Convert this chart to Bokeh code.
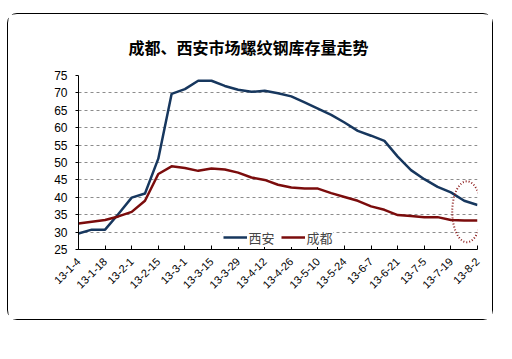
import math
from bokeh.plotting import figure
from bokeh.models import Range1d, FixedTicker, Legend, LegendItem
from bokeh.embed import file_html
from bokeh.resources import INLINE

tick_labels = ["13-1-4", "13-1-18", "13-2-1", "13-2-15", "13-3-1", "13-3-15", "13-3-29",
               "13-4-12", "13-4-26", "13-5-10", "13-5-24", "13-6-7", "13-6-21", "13-7-5",
               "13-7-19", "13-8-2"]
xian = [29.6, 30.7, 30.7, 35.2, 39.9, 41.1, 51.1, 69.7, 71.1, 73.5, 73.5, 72.0, 70.9, 70.3,
        70.6, 69.9, 69.0, 67.3, 65.5, 63.7, 61.5, 59.1, 57.7, 56.2, 51.7, 47.8, 45.2, 43.0,
        41.4, 39.0, 37.8]
chengdu = [32.5, 33.0, 33.5, 34.5, 35.8, 39.0, 46.7, 48.9, 48.4, 47.6, 48.3, 48.0, 47.1, 45.7,
           45.0, 43.6, 42.8, 42.5, 42.5, 41.2, 40.1, 39.0, 37.4, 36.4, 34.9, 34.6, 34.3, 34.3,
           33.5, 33.3, 33.3]
idx = list(range(len(xian)))

CJK = "Noto Sans CJK SC"
LAT = "Liberation Sans"

p = figure(frame_width=399, frame_height=174, output_backend="svg", toolbar_location=None,
           x_range=Range1d(0, len(xian) - 1), y_range=Range1d(25, 75),
           min_border_left=70, min_border_right=15, min_border_top=61, min_border_bottom=70,
           title="成都、西安市场螺纹钢库存量走势")
p.styles = {"border": "1px solid black", "border-radius": "10px",
            "margin-left": "7px", "margin-top": "13px"}
p.outline_line_color = None
p.background_fill_color = "white"
p.border_fill_color = "white"

p.title.align = "left"
p.title.offset = 50
p.title.text_font = CJK
p.title.text_font_style = "bold"
p.title.text_font_size = "16px"
p.title.text_color = "black"
p.title.standoff = 34

p.xgrid.grid_line_color = None
p.ygrid.grid_line_color = "#8c8c8c"
p.ygrid.grid_line_dash = "3 3"
p.ygrid.grid_line_width = 1

p.yaxis.ticker = FixedTicker(ticks=list(range(25, 80, 5)))
p.yaxis.minor_tick_line_color = None
p.yaxis.major_tick_in = 0
p.yaxis.major_tick_out = 3
p.yaxis.major_label_text_font = LAT
p.yaxis.major_label_text_font_size = "12px"
p.yaxis.major_label_text_color = "black"
p.yaxis.axis_line_color = "black"
p.yaxis.major_label_standoff = 8

p.xaxis.ticker = FixedTicker(ticks=list(range(0, len(xian), 2)))
p.xaxis.major_label_overrides = {i * 2: t for i, t in enumerate(tick_labels)}
p.xaxis.minor_tick_line_color = None
p.xaxis.major_tick_in = 4
p.xaxis.major_tick_out = 0
p.xaxis.major_label_orientation = math.pi / 4
p.xaxis.major_label_text_font = LAT
p.xaxis.major_label_text_font_size = "11px"
p.xaxis.major_label_text_color = "black"
p.xaxis.axis_line_color = "black"
p.xaxis.major_label_standoff = 10

r1 = p.line(idx, xian, line_color="#17375E", line_width=2.5, line_join="round")
r2 = p.line(idx, chengdu, line_color="#7B0C0C", line_width=2.5, line_join="round")

ex = (idx[-1] + idx[-2]) / 2 - 0.3
ey = (xian[-1] + xian[-2] + chengdu[-1] + chengdu[-2]) / 4
p.ellipse(x=[ex], y=[ey], width=[2.2], height=[17.5], fill_color=None,
          line_color="#8B1A1A", line_dash="1 2", line_width=2)

legend = Legend(items=[LegendItem(label="西安", renderers=[r1]),
                       LegendItem(label="成都", renderers=[r2])],
                orientation="horizontal", location="bottom_center",
                label_text_font=CJK, label_text_font_size="13px",
                glyph_width=24, label_standoff=2, spacing=6, padding=3, margin=2,
                border_line_color=None, background_fill_color="white",
                background_fill_alpha=1)
p.add_layout(legend)

open("out.html", "w").write(file_html(p, INLINE))
